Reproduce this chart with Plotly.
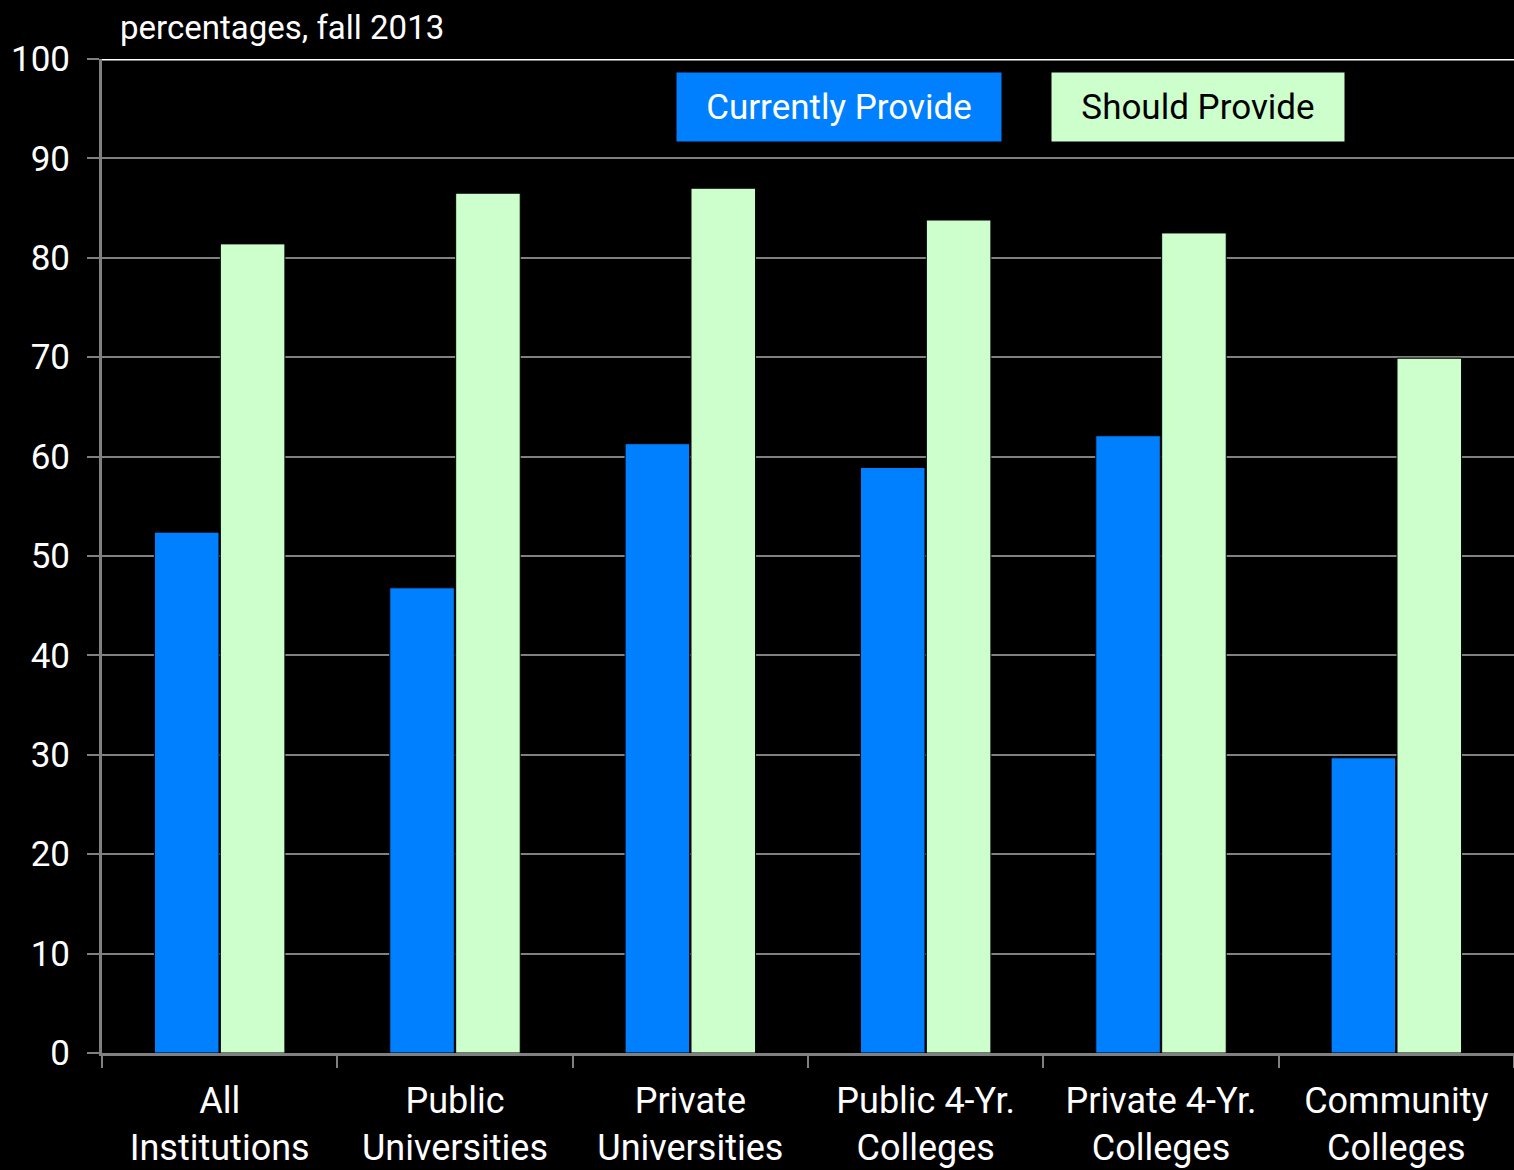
import plotly.graph_objects as go

categories = ["All<br>Institutions", "Public<br>Universities", "Private<br>Universities",
              "Public 4-Yr.<br>Colleges", "Private 4-Yr.<br>Colleges", "Community<br>Colleges"]
currently = [52.4, 46.8, 61.3, 58.9, 62.1, 29.7]
should = [81.4, 86.5, 87.0, 83.8, 82.5, 69.9]
yticks = [0, 10, 20, 30, 40, 50, 60, 70, 80, 90, 100]

FONT = "Roboto, Liberation Sans Narrow, sans-serif"
BLUE = "#0080FF"
GREEN = "#CCFFCC"

fig = go.Figure()
fig.add_trace(go.Bar(x=categories, y=currently, name="Currently Provide",
                     marker=dict(color=BLUE, line=dict(color="black", width=1))))
fig.add_trace(go.Bar(x=categories, y=should, name="Should Provide",
                     marker=dict(color=GREEN, line=dict(color="black", width=1))))

fig.update_layout(
    width=1514, height=1170,
    margin=dict(l=102, r=0, t=59, b=117),
    paper_bgcolor="black", plot_bgcolor="black",
    font=dict(family=FONT, size=36, color="white"),
    barmode="group", bargap=0.44, bargroupgap=0.02,
    showlegend=False,
)
fig.update_xaxes(
    type="category", tickson="boundaries", ticks="outside", ticklen=12, tickwidth=2,
    tickcolor="#808080", showline=True, linecolor="#808080", linewidth=3,
    showgrid=False, ticklabelstandoff=14,
    tickfont=dict(size=36, color="white", family=FONT),
)
fig.update_yaxes(
    range=[0, 100], tickvals=yticks, ticks="outside", ticklen=12, tickwidth=2,
    tickcolor="#808080", showline=True, linecolor="#808080", linewidth=3,
    showgrid=True, gridcolor="#808080", gridwidth=2, zeroline=False,
    ticklabelstandoff=10, tickfont=dict(size=35, color="white", family=FONT),
)
# top border line at 100
fig.add_shape(type="line", xref="paper", yref="y", x0=0, x1=1, y0=100, y1=100,
              line=dict(color="white", width=3))

fig.add_annotation(text="percentages, fall 2013", xref="paper", yref="paper",
                   x=(118 - 102) / 1412, y=1.0, xanchor="left", yanchor="bottom", yshift=10,
                   showarrow=False, font=dict(size=33, color="white", family=FONT))

fig.add_annotation(text="Currently Provide", xref="paper", yref="paper",
                   x=(839 - 102) / 1412, y=(1053 - 107) / 994, xanchor="center", yanchor="middle",
                   width=320, height=64, bgcolor=BLUE, borderpad=2, showarrow=False,
                   font=dict(size=35, color="white", family=FONT))
fig.add_annotation(text="Should Provide", xref="paper", yref="paper",
                   x=(1198 - 102) / 1412, y=(1053 - 107) / 994, xanchor="center", yanchor="middle",
                   width=288, height=64, bgcolor=GREEN, borderpad=2, showarrow=False,
                   font=dict(size=35, color="black", family=FONT))

fig.write_html("out.html", config={"displayModeBar": False},
               post_script="document.body.style.margin='0';document.body.style.background='black';")
